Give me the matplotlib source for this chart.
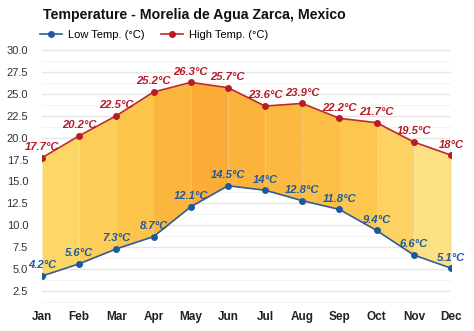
import matplotlib.pyplot as plt
import numpy as np

plt.rcParams['font.family'] = ['Liberation Sans', 'DejaVu Sans']

months = ["Jan", "Feb", "Mar", "Apr", "May", "Jun", "Jul", "Aug", "Sep", "Oct", "Nov", "Dec"]
low = [4.2, 5.6, 7.3, 8.7, 12.1, 14.5, 14.0, 12.8, 11.8, 9.4, 6.6, 5.1]
high = [17.7, 20.2, 22.5, 25.2, 26.3, 25.7, 23.6, 23.9, 22.2, 21.7, 19.5, 18.0]
seg_colors = ["#fdd668", "#fdcd58", "#fcc44b", "#fbb63d", "#fbad37", "#fbb33c",
              "#fcb942", "#fcbe46", "#fcc64f", "#fdd262", "#fde084"]

fig = plt.figure(figsize=(4.74, 3.31), dpi=100)
ax = fig.add_axes([42 / 474, 0.0813, (451 - 42) / 474, 0.8755 - 0.0813])
x = np.arange(len(months))

for i in range(len(months) - 1):
    ax.fill_between(x[i:i + 2], low[i:i + 2], high[i:i + 2], color=seg_colors[i], lw=0, zorder=2)

ax.plot(x, low, color="#2f5f95", lw=1.2, marker="o", ms=4, mfc="#1b5aa3", mec="#1b5aa3",
        label="Low Temp. (°C)", zorder=4)
ax.plot(x, high, color="#c0282c", lw=1.2, marker="o", ms=4, mfc="#b81c24", mec="#b81c24",
        label="High Temp. (°C)", zorder=4)

for xi, v in zip(x, high):
    ax.annotate(f"{v:g}°C", (xi, v), xytext=(0, 4), textcoords="offset points", ha="center",
                va="bottom", fontsize=8.1, fontweight="bold", fontstyle="italic", color="#b51c26", zorder=5)
for xi, v in zip(x, low):
    ax.annotate(f"{v:g}°C", (xi, v), xytext=(0, 4), textcoords="offset points", ha="center",
                va="bottom", fontsize=8.1, fontweight="bold", fontstyle="italic", color="#1d5aa0", zorder=5)

ax.set_xlim(0, 11)
ax.set_ylim(1, 31)
ax.set_yticks(np.arange(2.5, 30.1, 2.5))
ax.set_yticklabels([f"{t:.1f}" for t in np.arange(2.5, 30.1, 2.5)], fontsize=8, color="#333333")
ax.set_yticks(np.arange(1.25, 30.1, 1.25), minor=True)
ax.set_xticks(x)
ax.set_xticklabels(months, fontsize=8.5, fontweight="bold", color="#222222")
ax.tick_params(axis="both", which="both", length=0)
ax.tick_params(axis="x", pad=5)
ax.tick_params(axis="y", pad=10, which="both")
ax.grid(axis="y", which="major", color="#e6e6e6", lw=1, zorder=0)
ax.grid(axis="y", which="minor", color="#f3f3f3", lw=0.8, zorder=0)
for s in ax.spines.values():
    s.set_visible(False)

fig.text(43 / 474, 1 - 15 / 331, "Temperature - Morelia de Agua Zarca, Mexico", fontsize=10.2,
         fontweight="bold", va="center", ha="left", color="#111111")
ax.legend(loc="center left", bbox_to_anchor=(-0.005, 1 + 6 / 263), ncol=2, frameon=False, fontsize=8,
          handlelength=2.0, columnspacing=1.5, handletextpad=0.5, borderaxespad=0, borderpad=0)

fig.savefig("out.png", dpi=100)
